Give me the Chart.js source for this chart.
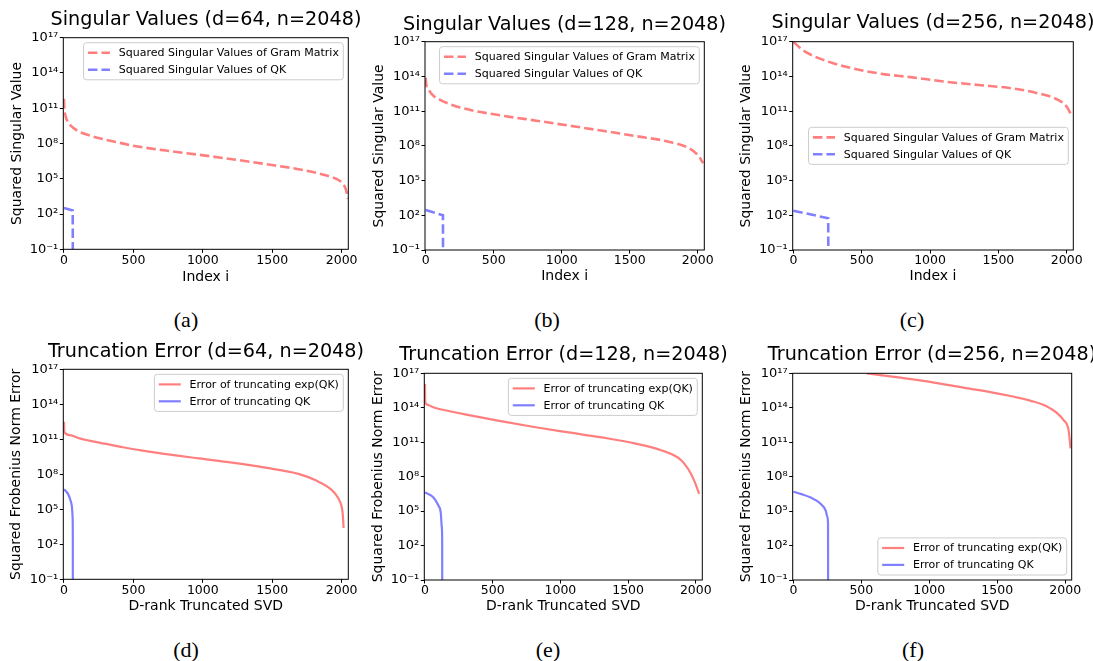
<!DOCTYPE html>
<html><head><meta charset="utf-8">
<script src="https://cdn.jsdelivr.net/npm/chart.js@4.4.1/dist/chart.umd.min.js"></script>
<style>
html,body{margin:0;padding:0;background:#fff;}
#wrap{position:relative;width:1093px;height:661px;overflow:hidden;background:#fff;}
canvas.cv{position:absolute;}
.cap{position:absolute;font-family:"Liberation Serif","Times New Roman",serif;font-size:22px;color:#000;transform:translate(-50%,-50%);line-height:1;white-space:nowrap;}
</style></head><body><div id="wrap"></div>
<script>
// ---------- tick labels ----------
const xTicks = [0, 500, 1000, 1500, 2000];
const yTicks = [1e-1, 1e2, 1e5, 1e8, 1e11, 1e14, 1e17];

// ---------- (a) d=64 singular values ----------
const aGramX = [0, 2, 10, 25, 60, 112, 180, 256, 380, 495, 734, 973, 1211, 1450, 1689, 1880, 1960, 2000, 2030, 2045];
const aGramY = [6.3e11, 1.3e11, 2.5e10, 7.9e9, 2.5e9, 1.0e9, 5.0e8, 2.8e8, 1.3e8, 6.6e7, 2.5e7, 1.1e7, 4.6e6, 1.8e6, 6.5e5, 2.1e5, 1.0e5, 4.8e4, 1.3e4, 2.0e3];
const aQkX = [0, 63, 64];
const aQkY = [3.2e2, 2.0e2, 1e-6];

// ---------- (b) d=128 singular values ----------
const bGramX = [0, 3, 17, 50, 103, 200, 323, 568, 813, 1058, 1302, 1547, 1792, 1939, 2000, 2040];
const bGramY = [7.9e13, 2.5e13, 9.3e12, 2.5e12, 1.0e12, 3.2e11, 1.3e11, 4.0e10, 1.5e10, 5.5e9, 2.0e9, 6.9e8, 2.2e8, 6.0e7, 1.6e7, 3.2e6];
const bQkX = [0, 127, 128];
const bQkY = [2.8e2, 1.0e2, 1e-6];

// ---------- (c) d=256 singular values ----------
const cGramX = [0, 68, 190, 384, 627, 870, 1113, 1356, 1599, 1793, 1939, 2000, 2040];
const cGramY = [1.0e17, 1.9e16, 3.6e15, 6.9e14, 1.8e14, 8.3e13, 3.5e13, 1.8e13, 9.3e12, 3.4e12, 9.1e11, 2.4e11, 3.2e10];
const cQkX = [0, 255, 256];
const cQkY = [2.5e2, 55, 1e-6];

// ---------- (d) d=64 truncation error ----------
const dExpX = [0, 2, 41, 113, 184, 304, 423, 543, 662, 973, 1211, 1450, 1689, 1809, 1928, 1976, 2000, 2008, 2014];
const dExpY = [3.2e12, 4.5e11, 2.3e11, 1.2e11, 7.6e10, 4.0e10, 2.1e10, 1.2e10, 7.2e9, 2.3e9, 1.0e9, 3.7e8, 1.1e8, 3.2e7, 4.6e6, 8.7e5, 1.7e5, 4.0e4, 2.5e3];
const dQkX = [0, 29, 46, 57, 62, 63.5, 64];
const dQkY = [5.2e6, 2.1e6, 6.3e5, 1.7e5, 2.3e4, 8.7e2, 1e-6];

// ---------- (e) d=128 truncation error ----------
const eExpX = [0, 2, 20, 61, 183, 305, 549, 817, 1061, 1305, 1549, 1744, 1890, 1963, 2000, 2024];
const eExpY = [1.2e16, 3.2e14, 1.8e14, 1.1e14, 5.0e13, 2.5e13, 7.1e12, 2.0e12, 7.1e11, 2.6e11, 7.9e10, 2.0e10, 2.8e9, 1.9e8, 2.0e7, 3.2e6];
const eQkX = [0, 61, 97, 117, 124, 127, 128];
const eQkY = [4.3e6, 1.6e6, 3.4e5, 6.3e4, 4.4e3, 3.2e2, 1e-6];

// ---------- (f) d=256 truncation error ----------
const fExpX = [540, 800, 1006, 1251, 1497, 1742, 1890, 1988, 2025, 2040];
const fExpY = [1.0e17, 4.0e16, 1.8e16, 5.6e15, 1.8e15, 4.2e14, 8.9e13, 8.5e12, 1.1e12, 2.9e10];
const fQkX = [0, 60, 123, 196, 238, 250, 255, 256];
const fQkY = [4.9e6, 3.0e6, 1.6e6, 4.8e5, 1.1e5, 3.2e4, 7.9e3, 1e-6];

// ---------- labels ----------
const gramLabel = 'Squared Singular Values of Gram Matrix';
const qkSvLabel = 'Squared Singular Values of QK';
const expErrLabel = 'Error of truncating exp(QK)';
const qkErrLabel = 'Error of truncating QK';
const RED = 'rgba(255,0,0,0.5)';
const BLUE = 'rgba(0,0,255,0.5)';

Chart.defaults.font.family = '"DejaVu Sans", sans-serif';
Chart.defaults.color = '#000';

const SUP = {'-':'\u207B','0':'\u2070','1':'\u00B9','2':'\u00B2','3':'\u00B3','4':'\u2074','5':'\u2075','6':'\u2076','7':'\u2077','8':'\u2078','9':'\u2079'};
function fmtPow(v){ const e = Math.round(Math.log10(v)); return '10' + String(e).split('').map(c => SUP[c]).join(''); }

const framePlugin = {
  id: 'frame',
  afterDatasetsDraw(chart){
    const {ctx, chartArea:a} = chart;
    ctx.save(); ctx.strokeStyle = '#000'; ctx.lineWidth = 1;
    ctx.strokeRect(a.left, a.top, a.right - a.left, a.bottom - a.top);
    ctx.restore();
  }
};

const insideLegend = {
  id: 'insideLegend',
  afterDraw(chart, args, opts){
    const {ctx, chartArea:a} = chart;
    const fs = 11, pad = 4.4, handle = 22, gap = 8.8, rowH = 11.4, spacing = 5.5, edge = 5;
    ctx.save();
    ctx.font = fs + 'px "DejaVu Sans"';
    const ds = chart.data.datasets;
    const tw = Math.max(...ds.map(d => ctx.measureText(d.label).width));
    const w = pad*2 + handle + gap + tw;
    const h = pad*2 + ds.length*rowH + (ds.length-1)*spacing;
    const x = a.right - edge - w;
    let y;
    if (opts.loc === 'center') y = (a.top + a.bottom)/2 - h/2;
    else if (opts.loc === 'lower') y = a.bottom - edge - h;
    else y = a.top + edge;
    ctx.beginPath();
    ctx.roundRect(x, y, w, h, 3);
    ctx.fillStyle = 'rgba(255,255,255,0.8)'; ctx.fill();
    ctx.strokeStyle = '#cccccc'; ctx.lineWidth = 1; ctx.stroke();
    ds.forEach((d, i) => {
      const cy = y + pad + rowH/2 + i*(rowH + spacing);
      ctx.beginPath();
      ctx.strokeStyle = d.borderColor; ctx.lineWidth = d.borderWidth;
      ctx.setLineDash(d.borderDash || []);
      ctx.moveTo(x + pad, cy); ctx.lineTo(x + pad + handle, cy); ctx.stroke();
      ctx.setLineDash([]);
      ctx.fillStyle = '#000'; ctx.textBaseline = 'middle'; ctx.textAlign = 'left';
      ctx.fillText(d.label, x + pad + handle + gap, cy + 0.5);
    });
    ctx.restore();
  }
};

// series entries: [label, xs, ys, color, smooth]
const panels = [
  {title:'Singular Values (d=64, n=2048)', xTitle:'Index i', yTitle:'Squared Singular Value', plot:[63.3,37.7,348.3,249.3], titleY:20, yTitleX:17, xTitleY:277, legend:'upper', dashed:true,
   series:[[gramLabel, aGramX, aGramY, RED, true],[qkSvLabel, aQkX, aQkY, BLUE, false]], cap:['(a)',186,320]},
  {title:'Singular Values (d=128, n=2048)', xTitle:'Index i', yTitle:'Squared Singular Value', plot:[425,41.7,704.3,250], titleY:25, yTitleX:379.3, xTitleY:276.7, legend:'upper', dashed:true,
   series:[[gramLabel, bGramX, bGramY, RED, true],[qkSvLabel, bQkX, bQkY, BLUE, false]], cap:['(b)',547,320]},
  {title:'Singular Values (d=256, n=2048)', xTitle:'Index i', yTitle:'Squared Singular Value', plot:[792.7,41.7,1073.3,250], titleY:23.3, yTitleX:746.7, xTitleY:276.7, legend:'center', dashed:true,
   series:[[gramLabel, cGramX, cGramY, RED, true],[qkSvLabel, cQkX, cQkY, BLUE, false]], cap:['(c)',912,320]},
  {title:'Truncation Error (d=64, n=2048)', xTitle:'D-rank Truncated SVD', yTitle:'Squared Frobenius Norm Error', plot:[63.3,369.3,348.3,579.3], titleY:351.7, yTitleX:16, xTitleY:606.7, legend:'upper', dashed:false,
   series:[[expErrLabel, dExpX, dExpY, RED, true],[qkErrLabel, dQkX, dQkY, BLUE, true]], cap:['(d)',186,650]},
  {title:'Truncation Error (d=128, n=2048)', xTitle:'D-rank Truncated SVD', yTitle:'Squared Frobenius Norm Error', plot:[424.3,373.3,702.3,580], titleY:355, yTitleX:378.3, xTitleY:606.7, legend:'upper', dashed:false,
   series:[[expErrLabel, eExpX, eExpY, RED, true],[qkErrLabel, eQkX, eQkY, BLUE, true]], cap:['(e)',548,650]},
  {title:'Truncation Error (d=256, n=2048)', xTitle:'D-rank Truncated SVD', yTitle:'Squared Frobenius Norm Error', plot:[792.7,373.3,1071.7,580], titleY:355, yTitleX:746, xTitleY:606.7, legend:'lower', dashed:false,
   series:[[expErrLabel, fExpX, fExpY, RED, true],[qkErrLabel, fQkX, fQkY, BLUE, true]], cap:['(f)',913,650]}
];

const wrap = document.getElementById('wrap');
const TITLE_FS = 19.2;

function build(p){
  const [L,T,R,B] = p.plot;
  const titleLH = TITLE_FS*1.2, axLH = 14*1.2;
  const cl = Math.floor(p.yTitleX - axLH/2 - 2);
  const ct = Math.max(0, Math.floor(p.titleY - titleLH/2 - 2));
  // canvas symmetric around the plot centre so the full-width title is centred on the plot
  const cr = Math.round(L + R - cl);
  const cb = Math.ceil(p.xTitleY + axLH/2 + 2);
  const yW = L - cl, xH = cb - B, rW = cr - R;
  const tPadTop = p.titleY - titleLH/2 - ct;
  const tPadBot = (T - ct) - tPadTop - titleLH;
  const yPadTop = p.yTitleX - axLH/2 - cl;
  const xPadBot = cb - p.xTitleY - axLH/2;

  const cv = document.createElement('canvas');
  cv.className = 'cv';
  cv.width = cr - cl; cv.height = cb - ct;
  cv.style.left = cl + 'px'; cv.style.top = ct + 'px';
  cv.style.width = (cr - cl) + 'px'; cv.style.height = (cb - ct) + 'px';
  wrap.appendChild(cv);

  const gridOpt = {display:true, drawOnChartArea:false, drawTicks:true, tickLength:3.5, tickColor:'#000', tickWidth:1};
  new Chart(cv, {
    type:'line',
    data:{datasets: p.series.map(([label, xs, ys, color, smooth]) => ({
      label, data: xs.map((x,i) => ({x, y: ys[i]})),
      borderColor: color, backgroundColor: color,
      borderWidth: p.dashed ? 2.6 : 2.2,
      borderDash: p.dashed ? [9.5, 4] : [],
      pointRadius: 0, fill: false,
      cubicInterpolationMode: smooth ? 'monotone' : 'default', tension: 0
    }))},
    options:{
      responsive:false, animation:false, devicePixelRatio:1, events:[],
      layout:{padding:0},
      plugins:{
        legend:{display:false}, tooltip:{enabled:false},
        title:{display:true, text:p.title, fullSize:true, color:'#000',
               font:{size:TITLE_FS, weight:'normal', lineHeight:1.2}, padding:{top:tPadTop, bottom:tPadBot}},
        insideLegend:{loc:p.legend}
      },
      scales:{
        x:{type:'linear', min:-5, max:2048,
           afterBuildTicks: s => { s.ticks = xTicks.map(v => ({value:v})); },
           afterFit: s => { s.height = xH; },
           grid:gridOpt, border:{display:false},
           ticks:{color:'#000', font:{size:12.5}, padding:0, maxRotation:0, autoSkip:false, callback: v => String(v)},
           title:{display:true, text:p.xTitle, color:'#000', font:{size:14, lineHeight:1.2}, padding:{top:0, bottom:xPadBot}}},
        y:{type:'logarithmic', min:0.1, max:1e17,
           afterBuildTicks: s => { s.ticks = yTicks.map(v => ({value:v})); },
           afterFit: s => { s.width = yW; },
           grid:gridOpt, border:{display:false},
           ticks:{color:'#000', font:{size:13}, padding:1.5, autoSkip:false, callback: v => fmtPow(v)},
           title:{display:true, text:p.yTitle, color:'#000', font:{size:14, lineHeight:1.2}, padding:{top:yPadTop, bottom:0}}},
        // empty spacer on the right so the plot area ends where the reference's does
        spacer:{type:'linear', axis:'y', position:'right', display:true,
           grid:{display:false, drawTicks:false}, border:{display:false},
           ticks:{display:false}, title:{display:false},
           afterFit: s => { s.width = rW; }}
      }
    },
    plugins:[framePlugin, insideLegend]
  });

  const cap = document.createElement('div');
  cap.className = 'cap';
  cap.textContent = p.cap[0];
  cap.style.left = p.cap[1] + 'px'; cap.style.top = p.cap[2] + 'px';
  wrap.appendChild(cap);
}
panels.forEach(build);
</script>
</body></html>
